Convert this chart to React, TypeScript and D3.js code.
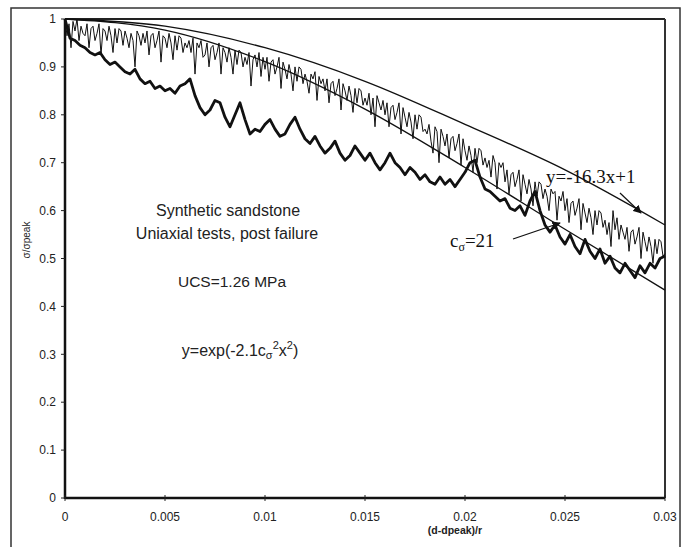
import React from "react";
import * as d3 from "d3";

// x ticks and y ticks
const xTicks = [0, 0.005, 0.01, 0.015, 0.02, 0.025, 0.03];
const yTicks = [0, 0.1, 0.2, 0.3, 0.4, 0.5, 0.6, 0.7, 0.8, 0.9, 1];

// thick test curve, x step 0.00025
const thickStep = 0.00025;
const thickVals = [
  1.0, 0.96, 0.955, 0.945, 0.94, 0.93, 0.925, 0.93, 0.915, 0.905,
  0.91, 0.9, 0.89, 0.885, 0.895, 0.875, 0.865, 0.87, 0.855, 0.86,
  0.85, 0.855, 0.845, 0.86, 0.865, 0.875, 0.84, 0.815, 0.8, 0.81,
  0.83, 0.825, 0.795, 0.775, 0.8, 0.825, 0.79, 0.76, 0.77, 0.765,
  0.78, 0.79, 0.77, 0.755, 0.76, 0.78, 0.795, 0.77, 0.75, 0.74,
  0.755, 0.735, 0.72, 0.73, 0.745, 0.72, 0.705, 0.715, 0.735, 0.72,
  0.705, 0.72, 0.7, 0.685, 0.7, 0.72, 0.7, 0.69, 0.675, 0.69,
  0.68, 0.665, 0.675, 0.66, 0.655, 0.67, 0.655, 0.665, 0.65, 0.665,
  0.68, 0.7, 0.705, 0.67, 0.645, 0.64, 0.63, 0.62, 0.625, 0.605,
  0.6, 0.61, 0.59, 0.62, 0.64, 0.6, 0.57, 0.555, 0.57, 0.545,
  0.53, 0.55, 0.525, 0.51, 0.54, 0.515, 0.5, 0.52, 0.49, 0.505,
  0.48, 0.47, 0.49, 0.475, 0.46, 0.485, 0.47, 0.49, 0.48, 0.5, 0.505,
];

// thin noisy test curve, x step 0.0001
const thinStep = 0.0001;
const thinVals = [
  1.0, 0.965, 0.99, 0.94, 0.995, 0.975, 1.0, 0.955, 0.985, 0.97,
  0.965, 0.99, 0.94, 0.98, 0.985, 0.955, 0.97, 0.99, 0.925, 0.98,
  0.975, 0.955, 0.985, 0.965, 0.93, 0.98, 0.95, 0.98, 0.975, 0.945,
  0.975, 0.96, 0.94, 0.97, 0.955, 0.9, 0.975, 0.965, 0.945, 0.97,
  0.95, 0.975, 0.925, 0.965, 0.97, 0.94, 0.955, 0.975, 0.91, 0.965,
  0.96, 0.94, 0.97, 0.95, 0.915, 0.965, 0.935, 0.965, 0.96, 0.93,
  0.95, 0.94, 0.955, 0.93, 0.96, 0.885, 0.95, 0.94, 0.955, 0.92,
  0.925, 0.95, 0.9, 0.94, 0.945, 0.915, 0.93, 0.95, 0.885, 0.94,
  0.93, 0.91, 0.94, 0.92, 0.885, 0.935, 0.905, 0.935, 0.93, 0.9,
  0.92, 0.905, 0.93, 0.86, 0.915, 0.925, 0.9, 0.93, 0.88, 0.92,
  0.895, 0.92, 0.87, 0.91, 0.915, 0.885, 0.9, 0.92, 0.855, 0.91,
  0.895, 0.875, 0.905, 0.885, 0.85, 0.9, 0.87, 0.9, 0.895, 0.865,
  0.885, 0.87, 0.845, 0.885, 0.875, 0.89, 0.83, 0.88, 0.865, 0.875,
  0.85, 0.875, 0.825, 0.865, 0.87, 0.84, 0.855, 0.875, 0.81, 0.865,
  0.85, 0.83, 0.86, 0.84, 0.805, 0.855, 0.825, 0.855, 0.85, 0.82,
  0.835, 0.82, 0.845, 0.8, 0.835, 0.775, 0.84, 0.825, 0.81, 0.83,
  0.8, 0.825, 0.775, 0.815, 0.82, 0.79, 0.805, 0.825, 0.76, 0.815,
  0.795, 0.775, 0.805, 0.785, 0.75, 0.8, 0.77, 0.8, 0.795, 0.765,
  0.77, 0.76, 0.78, 0.745, 0.72, 0.775, 0.765, 0.7, 0.77, 0.755,
  0.735, 0.76, 0.71, 0.75, 0.755, 0.725, 0.74, 0.76, 0.695, 0.75,
  0.725, 0.705, 0.735, 0.715, 0.68, 0.73, 0.7, 0.73, 0.725, 0.695,
  0.71, 0.69, 0.705, 0.67, 0.715, 0.7, 0.645, 0.7, 0.69, 0.7,
  0.66, 0.685, 0.635, 0.675, 0.68, 0.65, 0.665, 0.685, 0.62, 0.675,
  0.655, 0.635, 0.665, 0.645, 0.61, 0.66, 0.63, 0.66, 0.655, 0.625,
  0.645, 0.63, 0.6, 0.645, 0.635, 0.64, 0.58, 0.63, 0.62, 0.64,
  0.6, 0.625, 0.575, 0.615, 0.62, 0.59, 0.605, 0.625, 0.56, 0.615,
  0.595, 0.575, 0.605, 0.585, 0.55, 0.6, 0.57, 0.6, 0.595, 0.565,
  0.58, 0.55, 0.575, 0.525, 0.6, 0.56, 0.585, 0.54, 0.57, 0.555,
  0.54, 0.565, 0.515, 0.555, 0.56, 0.53, 0.545, 0.565, 0.5, 0.555,
  0.535, 0.515, 0.545, 0.525, 0.49, 0.54, 0.51, 0.54, 0.535, 0.505,
  0.51,
];

const expFit = [1, 0.977, 0.911, 0.812, 0.69, 0.561, 0.434];
const linFit = [1, 0.985, 0.94, 0.87, 0.78, 0.685, 0.57];

const W = 688;
const H = 547;
const M = { left: 65, right: 665, top: 19, bottom: 498 };

export default function App() {
  const x = d3.scaleLinear().domain([0, 0.03]).range([M.left, M.right]);
  const y = d3.scaleLinear().domain([0, 1]).range([M.bottom, M.top]);

  const line = d3
    .line<[number, number]>()
    .x((d) => x(d[0]))
    .y((d) => y(d[1]));
  const smooth = d3
    .line<[number, number]>()
    .x((d) => x(d[0]))
    .y((d) => y(d[1]))
    .curve(d3.curveMonotoneX);

  const thick = thickVals.map((v, i) => [i * thickStep, v] as [number, number]);
  const thin = thinVals.map((v, i) => [i * thinStep, v] as [number, number]);
  const fitA = expFit.map((v, i) => [xTicks[i], v] as [number, number]);
  const fitB = linFit.map((v, i) => [xTicks[i], v] as [number, number]);

  const sans = "Liberation Sans, Arial, sans-serif";
  const serif = "Liberation Serif, Times New Roman, serif";

  return (
    <svg
      width={W}
      height={H}
      style={{ position: "absolute", left: 0, top: 0, background: "#fff" }}
    >
      <defs>
        <marker
          id="arr"
          viewBox="0 0 10 10"
          refX="9"
          refY="5"
          markerWidth="7"
          markerHeight="7"
          orient="auto"
        >
          <path d="M0,0 L10,5 L0,10 z" fill="#111" />
        </marker>
      </defs>
      {/* outer frame, bottom edge runs off the picture */}
      <rect x={11} y={8} width={669} height={545} fill="none" stroke="#333" strokeWidth={1.5} />

      {/* plot frame */}
      <line x1={M.left} x2={M.right} y1={M.top} y2={M.top} stroke="#222" strokeWidth={2} />
      <line x1={M.right} x2={M.right} y1={M.top} y2={M.bottom} stroke="#333" strokeWidth={2} />
      <line x1={M.left} x2={M.left} y1={M.top} y2={M.bottom + 1} stroke="#111" strokeWidth={2.5} />
      <line x1={M.left} x2={M.right} y1={M.bottom} y2={M.bottom} stroke="#111" strokeWidth={2.5} />

      {yTicks.map((t) => (
        <g key={"y" + t}>
          <line x1={M.left - 4} x2={M.left} y1={y(t)} y2={y(t)} stroke="#222" />
          <text
            x={M.left - 9}
            y={y(t)}
            dy="0.35em"
            textAnchor="end"
            fontFamily={sans}
            fontSize={12}
            fill="#222"
          >
            {t}
          </text>
        </g>
      ))}
      {xTicks.map((t) => (
        <g key={"x" + t}>
          <line x1={x(t)} x2={x(t)} y1={M.bottom - 3} y2={M.bottom + 3} stroke="#222" />
          <text
            x={x(t)}
            y={M.bottom + 23}
            textAnchor="middle"
            fontFamily={sans}
            fontSize={12}
            fill="#222"
          >
            {t}
          </text>
        </g>
      ))}
      <text
        x={455}
        y={534}
        textAnchor="middle"
        fontFamily={sans}
        fontSize={10.5}
        fontWeight="bold"
        fill="#222"
      >
        (d-dpeak)/r
      </text>
      <text
        transform={`translate(30,240) rotate(-90)`}
        textAnchor="middle"
        fontFamily={sans}
        fontSize={10}
        fill="#222"
      >
        σ/σpeak
      </text>

      {/* data */}
      <path d={line(thin) || ""} fill="none" stroke="#111" strokeWidth={1} />
      <path d={line(thick) || ""} fill="none" stroke="#111" strokeWidth={2.8} strokeLinejoin="round" />
      <path d={smooth(fitB) || ""} fill="none" stroke="#111" strokeWidth={1.3} />
      <path d={smooth(fitA) || ""} fill="none" stroke="#111" strokeWidth={1.3} />

      {/* annotations */}
      <g fontFamily={sans} fill="#222" textAnchor="middle">
        <text x={228} y={216} fontSize={16}>Synthetic sandstone</text>
        <text x={227} y={239} fontSize={16}>Uniaxial tests, post failure</text>
        <text x={232} y={287} fontSize={15.5}>UCS=1.26 MPa</text>
        <text x={240} y={356} fontSize={16}>
          y=exp(-2.1c<tspan fontSize={11} dy={3}>σ</tspan>
          <tspan fontSize={11} dy={-10}>2</tspan>
          <tspan dy={7}>x</tspan>
          <tspan fontSize={11} dy={-7}>2</tspan>
          <tspan dy={7}>)</tspan>
        </text>
      </g>
      <text x={546} y={183} fontFamily={serif} fontSize={19} fill="#111">
        y=-16.3x+1
      </text>
      <line x1={620} y1={193} x2={641} y2={213} stroke="#111" strokeWidth={1.2} markerEnd="url(#arr)" />
      <text x={450} y={247} fontFamily={serif} fontSize={19} fill="#111">
        c<tspan fontSize={12} dy={4}>σ</tspan>
        <tspan dy={-4}>=21</tspan>
      </text>
      <line x1={513} y1={239} x2={560} y2={223} stroke="#111" strokeWidth={1.2} markerEnd="url(#arr)" />
    </svg>
  );
}
